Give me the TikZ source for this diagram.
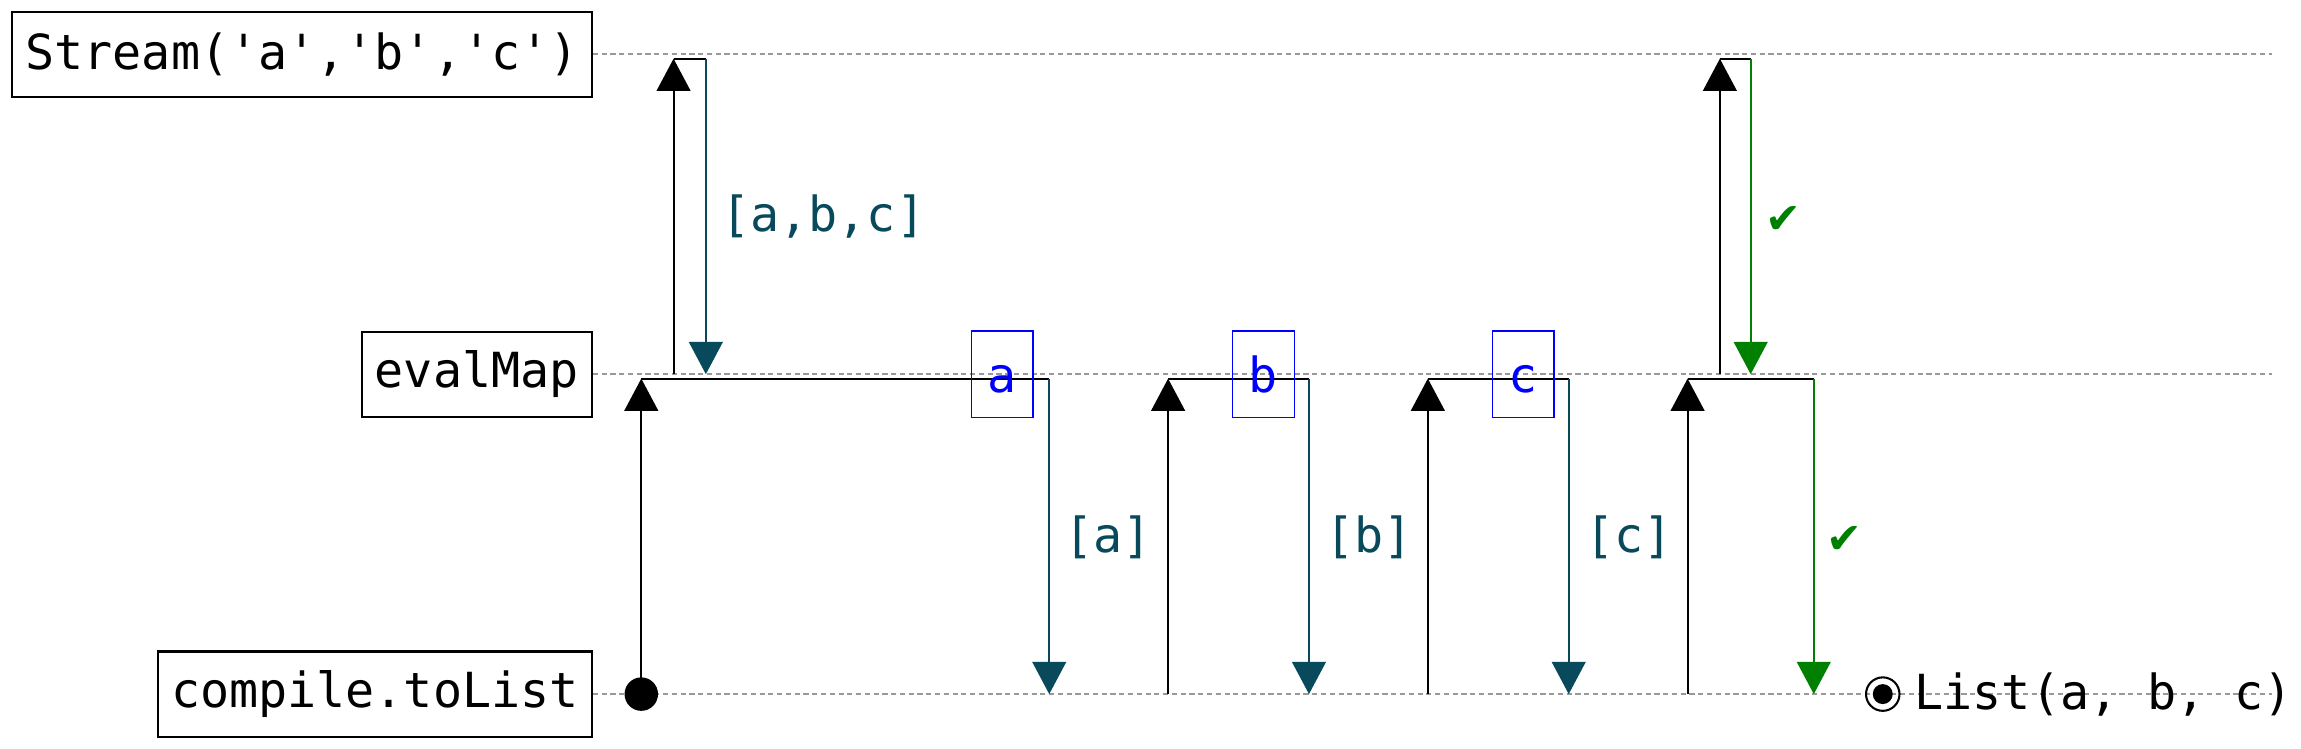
\documentclass[tikz,border=0pt]{standalone}
\usepackage{fontspec}
\setmonofont{DejaVu Sans Mono}
\newfontfamily\symfont{DejaVu Sans}
\usetikzlibrary{arrows.meta}
\definecolor{retcol}{HTML}{084A5C}
\definecolor{okgreen}{HTML}{008000}
\definecolor{lifegray}{HTML}{999999}
\begin{document}
\begin{tikzpicture}[x=0.01cm,y=-0.01cm,
  font=\ttfamily\fontsize{9.37pt}{11pt}\selectfont,
  actor/.style={draw, line width=0.4pt, inner xsep=0.09cm, inner ysep=0pt, minimum height=0.58cm, anchor=east},
  life/.style={draw=lifegray, line width=0.35pt, dash pattern=on 1pt off 0.7pt},
  tip/.style={-{Triangle[width=0.23cm,length=0.22cm]}},
  callline/.style={draw=black, line width=0.4pt},
  retline/.style={draw=retcol, line width=0.4pt},
  okline/.style={draw=okgreen, line width=0.4pt},
  valbox/.style={draw=blue, line width=0.3pt, text=blue, minimum width=0.42cm, minimum height=0.59cm, inner sep=0pt, text height=0.25cm, text depth=0cm},
  retlabel/.style={text=retcol, inner sep=0pt},
  oklabel/.style={text=okgreen, inner sep=0pt, font=\symfont\fontsize{8.3pt}{9pt}\selectfont}
]
\useasboundingbox (0,0) rectangle (1568,510);

% participants
\node[actor] (stream) at (404,37) {Stream('a','b','c')};
\node[actor] (eval) at (404,255) {evalMap};
\node[actor] (comp) at (404,473) {compile.toList};

% lifelines
\coordinate (sEnd) at (1548,37);
\coordinate (eEnd) at (1548,255);
\coordinate (cEnd) at (1548,473);
\draw[life] (stream.east) -- (sEnd);
\draw[life] (eval.east) -- (eEnd);
\draw[life] (comp.east) -- (cEnd);

% ---- first pull
\coordinate (c1) at (437,473);
\coordinate (e1) at (437,258);
\fill (c1) circle[radius=0.114cm];
\draw[callline,tip] (c1) -- (e1);

% evalMap -> Stream
\coordinate (s1a) at (459,255);
\coordinate (s1b) at (459,40);
\coordinate (s1c) at (481,40);
\coordinate (s1d) at (481,255);
\draw[callline,tip] (s1a) -- (s1b);
\draw[callline] (s1b) -- (s1c);
\draw[retline,tip] (s1c) -- (s1d);
\node[retlabel] (labc) at (561,147.5) {[a,b,c]};

% emit a
\coordinate (r1a) at (715,258);
\coordinate (r1b) at (715,473);
\draw[callline] (e1) -- (r1a);
\draw[retline,tip] (r1a) -- (r1b);
\node[valbox] (va) at (683,255) {a};
\node[retlabel] (la) at (755,366) {[a]};

% ---- second pull
\coordinate (c2) at (796,473);
\coordinate (e2) at (796,258);
\coordinate (r2a) at (892,258);
\coordinate (r2b) at (892,473);
\draw[callline,tip] (c2) -- (e2);
\draw[callline] (e2) -- (r2a);
\draw[retline,tip] (r2a) -- (r2b);
\node[valbox] (vb) at (861,255) {b};
\node[retlabel] (lb) at (933,366) {[b]};

% ---- third pull
\coordinate (c3) at (973,473);
\coordinate (e3) at (973,258);
\coordinate (r3a) at (1069,258);
\coordinate (r3b) at (1069,473);
\draw[callline,tip] (c3) -- (e3);
\draw[callline] (e3) -- (r3a);
\draw[retline,tip] (r3a) -- (r3b);
\node[valbox] (vc) at (1038,255) {c};
\node[retlabel] (lc) at (1110,366) {[c]};

% ---- fourth pull
\coordinate (c4) at (1150,473);
\coordinate (e4) at (1150,258);
\coordinate (r4a) at (1236,258);
\coordinate (r4b) at (1236,473);
\draw[callline,tip] (c4) -- (e4);
\draw[callline] (e4) -- (r4a);
\draw[okline,tip] (r4a) -- (r4b);
\node[oklabel] (ok2) at (1257,368) {✔};

% evalMap -> Stream (completion)
\coordinate (s2a) at (1172,255);
\coordinate (s2b) at (1172,40);
\coordinate (s2c) at (1193,40);
\coordinate (s2d) at (1193,255);
\draw[callline,tip] (s2a) -- (s2b);
\draw[callline] (s2b) -- (s2c);
\draw[okline,tip] (s2c) -- (s2d);
\node[oklabel] (ok1) at (1215,150) {✔};

% result
\coordinate (res) at (1283,473);
\draw[line width=0.4pt] (res) circle[radius=0.114cm];
\fill (res) circle[radius=0.068cm];
\node[anchor=west, inner sep=0pt] (list) at (1304,473) {List(a, b, c)};
\end{tikzpicture}
\end{document}
